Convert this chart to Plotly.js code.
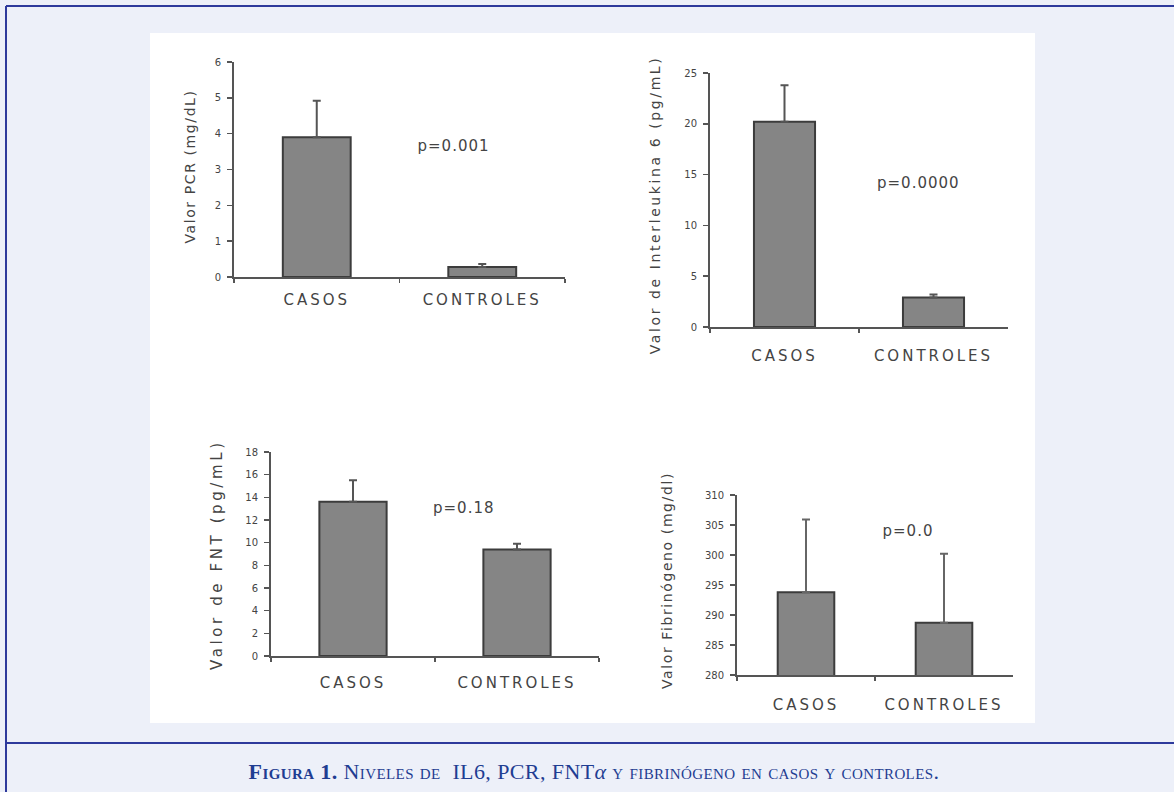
<!DOCTYPE html>
<html>
<head>
<meta charset="utf-8">
<script src="https://cdn.plot.ly/plotly-3.0.1.min.js"></script>
<style>html,body{margin:0;padding:0;background:#edf0f9;}#chart{width:1174px;height:792px;}</style>
</head>
<body>
<div id="chart"></div>
<script>
// ---- data ----
const categories = ["CASOS", "CONTROLES"];
const pcrMean = [3.9, 0.28];
const pcrErr = [1.02, 0.08];
const il6Mean = [20.2, 2.9];
const il6Err = [3.6, 0.3];
const fntMean = [13.6, 9.4];
const fntErr = [1.9, 0.5];
const fibMean = [293.8, 288.7];
const fibErr = [12.1, 11.5];
const yTitles = ["Valor PCR (mg/dL)", "Valor de Interleukina 6 (pg/mL)", "Valor de FNT (pg/mL)", "Valor Fibrinógeno (mg/dl)"];
const pLabels = ["p=0.001", "p=0.0000", "p=0.18", "p=0.0"];
const caption = "<b>Figura 1.</b> Niveles de  IL6, PCR, FNT<span style=\"font-variant:normal;font-style:italic\">α</span> y fibrinógeno en casos y controles.";

// ---- layout helpers ----
const W = 1174, H = 792;
const px = x => x / W;
const py = y => (H - y) / H;

const font = "DejaVu Sans, Arial, sans-serif";
const barStyle = {color: "#858585", line: {color: "#3c3c3c", width: 2}};

function barTrace(means, errs, xa, ya, errColor) {
  return {
    type: "bar", x: categories, y: means, width: 0.41,
    xaxis: xa, yaxis: ya,
    marker: barStyle,
    error_y: {type: "data", array: errs, arrayminus: [0, 0], symmetric: false,
              color: errColor || "#555", thickness: 2, width: 4},
    showlegend: false, hoverinfo: "skip"
  };
}

const data = [
  barTrace(pcrMean, pcrErr, "x", "y"),
  barTrace(il6Mean, il6Err, "x2", "y2"),
  barTrace(fntMean, fntErr, "x3", "y3"),
  barTrace(fibMean, fibErr, "x4", "y4", "#666")
];

function xax(x0, x1, anchor, standoff) {
  return {
    domain: [px(x0), px(x1)], anchor: anchor, type: "category",
    range: [-0.5, 1.5], tickson: "boundaries", ticks: "outside", ticklen: 4,
    tickcolor: "#555", tickwidth: 1.5,
    showline: true, linecolor: "#555", linewidth: 2, showgrid: false, zeroline: false,
    tickfont: {family: font, size: 15, color: "#444"}, ticklabelstandoff: standoff,
    fixedrange: true
  };
}
function yax(y0, y1, anchor, range, dtick) {
  return {
    domain: [py(y1), py(y0)], anchor: anchor, range: range, dtick: dtick,
    ticks: "outside", ticklen: 5, tickcolor: "#555", tickwidth: 1.5,
    showline: true, linecolor: "#555", linewidth: 2, showgrid: false, zeroline: false,
    tickfont: {family: font, size: 10, color: "#444"}, ticklabelstandoff: 4,
    fixedrange: true
  };
}

const lineCol = "#2e3a9c";
const shapes = [
  {type: "rect", xref: "paper", yref: "paper", x0: px(150), x1: px(1035), y0: py(723), y1: py(33),
   fillcolor: "#ffffff", line: {width: 0}, layer: "below"},
  {type: "line", xref: "paper", yref: "paper", x0: px(6), x1: px(1174), y0: py(6), y1: py(6), line: {color: lineCol, width: 2}},
  {type: "line", xref: "paper", yref: "paper", x0: px(6), x1: px(6), y0: py(6), y1: py(792), line: {color: lineCol, width: 2}},
  {type: "line", xref: "paper", yref: "paper", x0: px(6), x1: px(1174), y0: py(743), y1: py(743), line: {color: lineCol, width: 2}}
];

function ann(text, x, y, size, angle, extra) {
  return Object.assign({
    text: text, xref: "paper", yref: "paper", x: px(x), y: py(y),
    xanchor: "center", yanchor: "middle", showarrow: false, textangle: angle || 0,
    font: {family: font, size: size, color: "#444"}
  }, extra || {});
}

const annotations = [
  ann(yTitles[0], 190, 166, 14, -90),
  ann(yTitles[1], 655, 205, 14, -90),
  ann(yTitles[2], 217, 555, 15, -90),
  ann(yTitles[3], 667, 581, 14, -90),
  ann(pLabels[0], 453, 146, 15),
  ann(pLabels[1], 918, 183, 15),
  ann(pLabels[2], 464, 508, 15),
  ann(pLabels[3], 908, 531, 15),
  ann(caption, 594, 771, 22, 0, {font: {family: "Liberation Serif, Times New Roman, serif", size: 22, color: "#1f3d92", variant: "small-caps"}})
];
// letter spacing (px) for each annotation, to mimic the wide-set scanned type
const annSpacing = [1.6, 2.6, 3.6, 1.6, 1, 1, 1, 1, 0.4];

const layout = {
  width: W, height: H,
  margin: {l: 0, r: 0, t: 0, b: 0},
  paper_bgcolor: "#edf0f9", plot_bgcolor: "rgba(0,0,0,0)",
  xaxis: xax(234, 565, "y", 8),
  yaxis: yax(62, 277, "x", [0, 6], 1),
  xaxis2: xax(710, 1008, "y2", 14),
  yaxis2: yax(73, 327, "x2", [0, 25], 5),
  xaxis3: xax(271, 599, "y3", 12),
  yaxis3: yax(452, 656, "x3", [0, 18], 2),
  xaxis4: xax(737, 1013, "y4", 15),
  yaxis4: yax(495, 675, "x4", [280, 310], 5),
  shapes: shapes,
  annotations: annotations
};

Plotly.newPlot("chart", data, layout, {displayModeBar: false, staticPlot: true}).then(gd => {
  gd.querySelectorAll("g.xtick text, g.x2tick text, g.x3tick text, g.x4tick text")
    .forEach(t => { t.style.letterSpacing = "3px"; });
  gd.querySelectorAll("g.annotation").forEach(g => {
    const i = +g.getAttribute("data-index");
    const t = g.querySelector("text.annotation-text");
    if (t && annSpacing[i]) t.style.letterSpacing = annSpacing[i] + "px";
  });
});
</script>
</body>
</html>
